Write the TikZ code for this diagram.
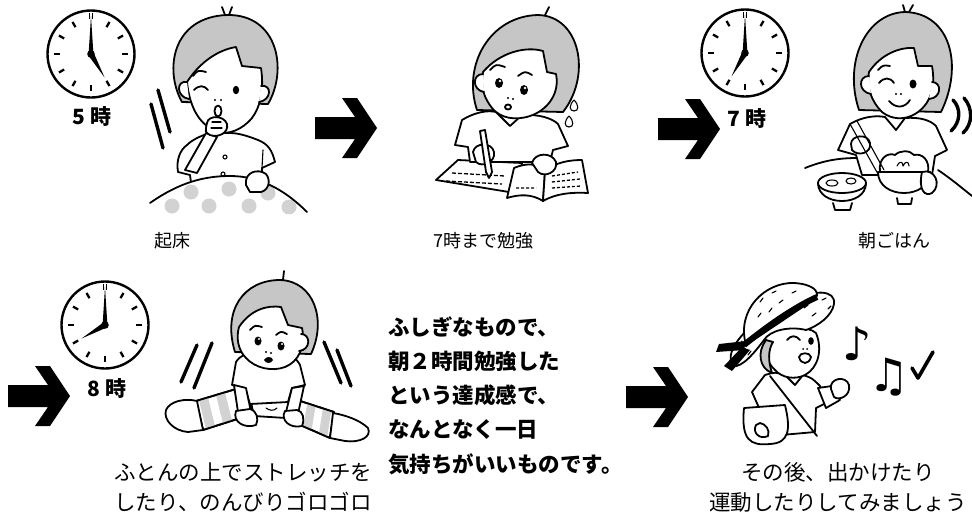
\documentclass[tikz,border=0pt]{standalone}
\usepackage{fontspec}
\usetikzlibrary{calc}
\newfontfamily\jp{Noto Sans CJK JP}
\newfontfamily\symb{DejaVu Sans}
\tikzset{
  ink/.style={line width=1.8pt, line cap=round, line join=round},
  thinink/.style={line width=1.1pt, line cap=round, line join=round},
  swish/.style={line width=3.4pt, line cap=round},
  hairfill/.style={fill=gray!45},
  stripefill/.style={fill=gray!35},
  clockbody/.style={circle, draw, line width=2.4pt, minimum size=87pt, inner sep=0pt, fill=white},
  tickmark/.style={line width=2.3pt},
  timelabel/.style={font=\jp\bfseries\fontsize{21}{21}\selectfont, inner sep=0pt},
  caption/.style={font=\jp\fontsize{18}{18}\selectfont, inner sep=0pt},
  capbig/.style={font=\jp\fontsize{21.5}{30}\selectfont, align=center, inner sep=0pt},
  msgline/.style={font=\jp\bfseries\fontsize{21.5}{21.5}\selectfont, anchor=west, inner sep=0pt},
  notes/.style={font=\symb\fontsize{46}{46}\selectfont, inner sep=0pt},
}
% clock face: name, centre, hour
\newcommand\clockface[3]{%
  \node[clockbody] (#1) at (#2) {};
  \begin{scope}[shift={(#1.center)}]
    \foreach \t in {1,...,11} \draw[tickmark] (-90+30*\t:31) -- (-90+30*\t:37);
    \draw[line width=1pt] (-1.8,-35) -- (-1.8,-41) (1.8,-35) -- (1.8,-41);
    \pgfmathsetmacro\ha{-90+30*#3}
    \fill (\ha+90:3) -- (\ha:27) -- (\ha-90:3) -- (\ha+180:3) -- cycle;
    \fill (2.4,0) -- (0,-38) -- (-2.4,0) -- (0,3) -- cycle;
    \fill (0,0) circle (3.8);
  \end{scope}}
% thick block arrow: name, top-left corner
\newcommand\blockarrow[2]{%
  \coordinate (#1) at (#2);
  \fill[shift={(#1)}] (0,19) -- (40,19) -- (27,0) -- (42,0) -- (62,30) -- (42,60) -- (27,60) -- (40,41) -- (0,41) -- cycle;}
\begin{document}
\begin{tikzpicture}[x=1pt, y=-1pt]
\useasboundingbox[fill=white] (0,0) rectangle (972,515);

% ---------- clocks and time labels ----------
\clockface{c5}{91,54}{5}
\clockface{c7}{745,53}{7}
\clockface{c8}{105,325}{8}
\node[timelabel] (t5) at (92,116) {5 時};
\node[timelabel] (t7) at (747,118) {7 時};
\node[timelabel] (t8) at (107,388) {8 時};

% ---------- block arrows ----------
\blockarrow{a1}{315,98}
\blockarrow{a2}{658,99}
\blockarrow{a3}{8,366}
\blockarrow{a4}{626,367}

% ---------- waking up ----------
\draw[swish] (158,90) -- (170,132);
\draw[swish] (151,104) -- (163,148);
% shirt
\draw[ink, fill=white] (187,145) .. controls (180,150) and (176,160) .. (178,172) -- (190,175) -- (192,190) -- (262,190) -- (262,168) -- (275,162) .. controls (272,150) and (268,144) .. (258,140) .. controls (248,136) and (238,133) .. (230,133) -- (210,133) .. controls (200,136) and (192,140) .. (187,145) -- cycle;
\draw[thinink] (263,150) -- (262,168);
\draw[thinink] (225,157) circle (2) (223,174) circle (2);
% raised arm and fist
\draw[ink, fill=white] (185,170) -- (206,133) -- (217,137) -- (197,173) -- cycle;
% hair
\draw[ink, hairfill] (182,102) .. controls (164,70) and (172,17) .. (227,15) .. controls (278,14) and (288,70) .. (268,104) -- cycle;
\draw[ink] (225,15) -- (222,7) (229,15) -- (232,7);
% face
\draw[ink, fill=white] (187,82) .. controls (200,62) and (218,50) .. (236,47) -- (242,66) -- (261,68) .. controls (264,88) and (261,106) .. (252,118) .. controls (242,130) and (228,135) .. (218,132) .. controls (201,126) and (190,110) .. (187,82) -- cycle;
\draw[ink, fill=white] (187,82) .. controls (176,80) and (176,97) .. (189,99);
\draw[ink, fill=white] (261,86) .. controls (272,84) and (272,100) .. (259,102);
\draw[ink] (194,90) .. controls (199,85) and (204,85) .. (208,90);
\draw[ink] (193,76) .. controls (198,70) .. (206,72);
\fill (236,90) ellipse (3.2 and 4.2);
\fill (215,100) circle (1.2) (221,100) circle (1.2);
\draw[ink, fill=white] (218,111) ellipse (3.5 and 5.5);
\draw[ink, fill=white] (207,123) .. controls (208,115) and (224,115) .. (227,124) .. controls (229,133) and (218,138) .. (210,135) .. controls (205,132) .. (207,123) -- cycle;
\draw[thinink] (212,122) -- (221,122) (211,128) -- (222,128);
% futon with dots
\fill[white] (150,203) .. controls (180,182) and (205,176) .. (230,176) .. controls (260,176) and (285,190) .. (307,212) -- (307,214) -- (150,214) -- cycle;
\begin{scope}
  \clip (150,203) .. controls (180,182) and (205,176) .. (230,176) .. controls (260,176) and (285,190) .. (307,212) -- (307,214) -- (150,214) -- cycle;
  \foreach \p in {(172,206),(191,192),(209,206),(229,189),(249,206),(268,193),(289,207)}
    \fill[gray!35] \p circle (7.5);
\end{scope}
\draw[ink] (150,203) .. controls (180,182) and (205,176) .. (230,176) .. controls (260,176) and (285,190) .. (307,212);
\draw[ink, fill=white] (246,185) .. controls (244,172) and (258,168) .. (266,174) .. controls (271,180) and (269,190) .. (261,192) -- (250,192) -- cycle;
\node[caption] (cap1) at (172,241) {起床};

% ---------- studying ----------
\draw[ink, fill=white] (436,180) -- (458,160) -- (522,163) -- (515,193) -- cycle;
\draw[line width=1.3pt, dash pattern=on 4pt off 2pt] (452,173) -- (505,176) (446,181) -- (502,184);
% shirt
\draw[ink, fill=white] (455,145) -- (462,120) .. controls (475,112) and (488,110) .. (496,112) -- (510,126) -- (522,115) .. controls (538,114) and (552,118) .. (558,124) -- (568,146) -- (553,150) -- (550,162) -- (470,162) -- (468,147) -- cycle;
% open book
\draw[ink, fill=white] (507,198) -- (514,168) .. controls (528,162) and (538,164) .. (545,171) -- (543,201) .. controls (532,194) and (520,194) .. (507,198) -- cycle;
\draw[ink, fill=white] (545,171) .. controls (556,162) and (570,160) .. (582,160) -- (588,193) .. controls (570,192) and (555,194) .. (543,201) -- cycle;
\draw[line width=1.3pt, dash pattern=on 3pt off 2pt] (552,176) -- (578,172) (552,182) -- (580,179) (552,188) -- (581,186) (516,188) -- (536,188);
% hands and pen
\draw[ink, fill=white] (473,152) .. controls (475,142) and (492,142) .. (494,152) .. controls (496,162) and (482,168) .. (476,162) -- cycle;
\draw[ink, fill=white] (480,131) -- (485,130) -- (492,172) -- (489,178) -- (486,172) -- cycle;
\draw[ink, fill=white] (532,163) .. controls (535,152) and (552,152) .. (556,162) .. controls (558,172) and (545,178) .. (538,172) -- cycle;
% head
\draw[ink, hairfill] (477,110) .. controls (462,65) and (490,16) .. (538,15) .. controls (580,16) and (592,75) .. (563,112) -- cycle;
\draw[ink] (545,15) -- (549,7);
\draw[ink, fill=white] (483,72) .. controls (500,52) and (526,46) .. (543,51) -- (547,72) -- (556,74) .. controls (560,93) and (548,110) .. (530,116) .. controls (515,121) and (500,118) .. (492,108) .. controls (484,98) and (480,86) .. (483,72) -- cycle;
\draw[ink, fill=white] (483,74) .. controls (472,74) and (472,90) .. (484,92);
\fill (499,83) ellipse (4 and 5); \fill[white] (500,81) circle (1.3);
\fill (524,90) ellipse (4 and 5); \fill[white] (525,88) circle (1.3);
\draw[ink] (490,70) .. controls (496,64) .. (505,67);
\draw[ink] (518,76) .. controls (525,71) .. (532,75);
\fill (508,98) circle (1.1) (513,99) circle (1.1);
\draw[ink] (508,107) ellipse (3 and 2.5);
\draw[thinink, fill=white] (574,100) .. controls (579,105) and (579,111) .. (574,111) .. controls (569,111) and (569,105) .. (574,100);
\draw[thinink, fill=white] (569,116) .. controls (574,121) and (574,127) .. (569,127) .. controls (564,127) and (564,121) .. (569,116);
\node[caption] (cap2) at (483,241) {7時まで勉強};

% ---------- breakfast ----------
\draw[ink] (805,168) .. controls (825,160) and (840,158) .. (858,158);
\draw[ink] (938,170) .. controls (950,178) and (962,188) .. (972,196);
\draw[ink, fill=white] (838,150) -- (850,124) .. controls (862,117) and (875,115) .. (885,117) -- (896,130) -- (905,118) .. controls (920,117) and (930,120) .. (936,126) -- (947,150) -- (935,156) -- (932,175) -- (862,175) -- (856,155) -- cycle;
% miso bowl
\draw[ink, fill=white] (818,183) .. controls (818,207) and (866,207) .. (866,183) -- cycle;
\draw[ink, fill=white] (842,183) ellipse (24 and 10);
\draw[ink] (833,203) -- (835,210) -- (850,210) -- (852,203);
\draw[thinink] (832,183) ellipse (6 and 3) (851,181) ellipse (5 and 3);
% rice bowl
\draw[ink, fill=white] (878,172) .. controls (878,200) and (930,200) .. (930,172) -- cycle;
\draw[ink] (897,198) -- (898,204) -- (911,204) -- (912,198);
\draw[ink, fill=white] (880,172) .. controls (878,158) and (888,152) .. (895,155) .. controls (900,150) and (910,150) .. (914,155) .. controls (922,153) and (930,160) .. (928,172) -- cycle;
\draw[thinink] (897,166) .. controls (899,161) and (903,161) .. (903,166) .. controls (905,161) and (909,161) .. (909,166);
\draw[ink, fill=white] (922,172) .. controls (935,168) and (942,185) .. (932,193) .. controls (925,197) and (918,190) .. (922,172);
% chopsticks hand
\draw[ink, fill=white] (851,144) .. controls (851,135) and (868,133) .. (870,143) .. controls (872,153) and (858,157) .. (852,150) -- cycle;
\draw[thinink] (850,124) -- (878,174); \draw[thinink] (857,121) -- (884,170);
% head
\draw[ink, hairfill] (859,110) .. controls (843,62) and (866,13) .. (905,12) .. controls (950,13) and (964,65) .. (941,112) -- cycle;
\draw[ink] (905,12) -- (903,5) (909,12) -- (913,5);
\draw[ink, fill=white] (869,72) .. controls (881,54) and (900,47) .. (914,48) -- (918,66) -- (932,66) .. controls (936,88) and (930,105) .. (915,114) .. controls (905,120) and (892,120) .. (882,112) .. controls (872,102) and (866,88) .. (869,72) -- cycle;
\draw[ink, fill=white] (869,76) .. controls (858,76) and (858,92) .. (871,94);
\draw[ink, fill=white] (932,82) .. controls (942,82) and (942,98) .. (929,99);
\draw[ink] (879,83) .. controls (884,77) and (890,77) .. (894,83);
\fill (913,84) ellipse (3.5 and 4.5);
\draw[ink] (878,70) .. controls (883,65) .. (890,66);
\fill (896,94) circle (1.1) (901,94) circle (1.1);
\draw[ink] (889,101) .. controls (896,109) and (905,108) .. (910,100);
\draw[swish] (953,100) .. controls (961,108) and (961,122) .. (951,131);
\draw[swish] (964,98) .. controls (973,108) and (973,124) .. (963,133);
\node[caption] (cap3) at (894,241) {朝ごはん};

% ---------- stretching ----------
\draw[swish] (197,345) -- (181,382);
\draw[swish] (212,343) -- (194,388);
\draw[swish] (324,342) -- (341,383);
\draw[swish] (337,350) -- (351,386);
% legs with striped trousers
\coordinate (lA) at (246,386); \coordinate (lB) at (196,401);
\coordinate (lC) at (203,430); \coordinate (lD) at (253,414);
\coordinate (rA) at (288,397); \coordinate (rB) at (334,412);
\coordinate (rC) at (330,438); \coordinate (rD) at (284,418);
\draw[ink, fill=white] (lA) -- (lB) -- (lC) -- (lD) -- cycle;
\draw[ink, fill=white] (rA) -- (rB) -- (rC) -- (rD) -- cycle;
\foreach \s/\e in {0.08/0.26, 0.42/0.60, 0.76/0.94} {
  \fill[stripefill] ($(lA)!\s!(lB)$) -- ($(lA)!\e!(lB)$) -- ($(lD)!\e!(lC)$) -- ($(lD)!\s!(lC)$) -- cycle;
  \fill[stripefill] ($(rA)!\s!(rB)$) -- ($(rA)!\e!(rB)$) -- ($(rD)!\e!(rC)$) -- ($(rD)!\s!(rC)$) -- cycle;}
\draw[ink] (lA) -- (lB) -- (lC) -- (lD) (rA) -- (rB) -- (rC) -- (rD);
\draw[ink, fill=white] (250,398) -- (290,398) -- (286,418) -- (254,416) -- cycle;
\draw[thinink] (266,408) .. controls (270,411) and (274,411) .. (277,408);
% feet
\draw[ink, fill=white] (197,401) .. controls (185,398) and (170,401) .. (166,410) .. controls (163,420) and (174,431) .. (188,432) -- (203,430) -- cycle;
\draw[ink, fill=white] (333,413) .. controls (345,415) and (360,420) .. (368,428) .. controls (372,437) and (360,443) .. (345,441) -- (330,438) -- cycle;
% shirt and arms
\draw[ink, fill=white] (236,362) .. controls (240,355) and (250,352) .. (258,352) -- (268,365) -- (278,352) .. controls (288,353) and (296,357) .. (300,365) -- (305,385) -- (292,388) -- (288,402) -- (250,404) -- (245,388) -- (232,385) -- cycle;
\draw[ink, fill=white] (234,385) -- (238,412) -- (251,412) -- (246,388) -- cycle;
\draw[ink, fill=white] (292,388) -- (286,412) -- (298,414) -- (304,386) -- cycle;
\draw[ink, fill=white] (236,411) .. controls (232,422) and (245,429) .. (256,425) .. controls (259,419) and (257,411) .. (250,409) -- cycle;
\draw[ink, fill=white] (285,411) .. controls (280,420) and (290,429) .. (302,426) .. controls (305,419) and (303,411) .. (297,410) -- cycle;
% head
\draw[ink, hairfill] (235,352) .. controls (222,310) and (244,280) .. (280,280) .. controls (314,281) and (327,320) .. (311,354) -- cycle;
\draw[ink] (283,280) -- (284,271);
\draw[ink, fill=white] (239,327) .. controls (251,309) and (268,305) .. (281,307) -- (288,325) -- (302,328) .. controls (306,347) and (298,362) .. (285,367) .. controls (272,372) and (255,368) .. (246,358) .. controls (238,350) and (236,338) .. (239,327) -- cycle;
\draw[ink, fill=white] (301,334) .. controls (311,334) and (311,350) .. (299,351);
\fill (258,341) ellipse (3.5 and 4.5); \fill[white] (259,339) circle (1.2);
\fill (281,346) ellipse (3.5 and 4.5); \fill[white] (282,344) circle (1.2);
\draw[ink] (250,330) .. controls (255,325) .. (262,327);
\draw[ink] (276,335) .. controls (281,331) .. (287,334);
\fill (266,352) circle (1.1) (271,353) circle (1.1);
\fill (264,360) .. controls (266,356) and (272,356) .. (273,360) .. controls (271,364) and (266,364) .. (264,360);
\node[capbig] (cap4) at (243,487) {ふとんの上でストレッチを\\したり、のんびりゴロゴロ};

% ---------- message ----------
\node[msgline] (m1) at (388,327) {ふしぎなもので、};
\node[msgline] (m2) at (388,361) {朝２時間勉強した};
\node[msgline] (m3) at (388,395) {という達成感で、};
\node[msgline] (m4) at (388,429) {なんとなく一日};
\node[msgline] (m5) at (388,464) {気持ちがいいものです。};

% ---------- going out ----------
\draw[ink, fill=white] (752,392) -- (765,375) .. controls (775,372) .. (785,375) -- (795,385) -- (803,375) .. controls (812,378) .. (820,386) -- (828,402) -- (816,408) -- (815,432) -- (770,436) -- (760,410) -- cycle;
\draw[ink] (770,376) -- (817,436);
\draw[ink, fill=white] (744,408) .. controls (741,440) and (750,446) .. (770,444) .. controls (789,443) and (791,430) .. (785,405) -- cycle;
\draw[ink, fill=white] (756,425) .. controls (752,433) and (760,440) .. (768,436) .. controls (770,430) and (766,424) .. (760,423) -- cycle;
\draw[ink, fill=white] (818,388) -- (826,408) -- (840,400) -- (832,386) -- cycle;
\draw[ink, fill=white] (831,389) .. controls (829,378) and (846,375) .. (849,385) .. controls (851,396) and (839,401) .. (834,397) -- cycle;
% face under the hat
\draw[ink, fill=white] (766,333) .. controls (788,326) and (808,326) .. (816,333) .. controls (823,350) and (818,368) .. (805,375) .. controls (795,380) and (782,378) .. (775,370) .. controls (766,362) and (763,348) .. (766,333) -- cycle;
\draw[ink, hairfill] (766,340) .. controls (757,352) and (759,368) .. (772,373) .. controls (768,361) and (768,350) .. (773,342) -- cycle;
% hat: brim, crown, band and ribbon
\draw[ink, fill=white] (733,366) .. controls (722,350) and (750,322) .. (785,303) .. controls (815,288) and (836,290) .. (834,304) .. controls (832,316) and (818,326) .. (806,330) .. controls (790,326) and (770,330) .. (764,340) .. controls (755,352) and (742,368) .. (733,366) -- cycle;
\draw[ink, fill=white] (746,345) .. controls (736,310) and (765,282) .. (794,283) .. controls (812,284) and (820,291) .. (816,298) -- cycle;
\foreach \p/\q in {{(760,302)}/{(763,298)}, {(772,293)}/{(776,291)}, {(779,303)}/{(783,300)}, {(758,317)}/{(761,313)}, {(792,293)}/{(796,291)}, {(769,312)}/{(772,308)}, {(740,345)}/{(742,341)}, {(736,357)}/{(739,353)}, {(748,355)}/{(751,351)}, {(822,300)}/{(826,298)}, {(828,309)}/{(831,306)}, {(812,316)}/{(816,313)}, {(804,308)}/{(808,305)}}
  \draw[thinink] \p -- \q;
\draw[line width=6pt] (744,345) .. controls (770,324) and (795,307) .. (817,297);
\fill (746,341) -- (719,344) -- (716,352) -- (744,350) -- cycle;
\fill (742,347) -- (724,366) -- (732,371) -- (750,350) -- cycle;
% face details
\draw[ink] (787,340) .. controls (791,335) and (796,335) .. (800,340);
\fill (811,341) ellipse (2.8 and 3.8);
\fill (803,349) circle (1) (807,349) circle (1);
\draw[ink, fill=white] (799,357) .. controls (800,352) and (810,352) .. (811,357) .. controls (809,365) and (801,365) .. (799,357) -- cycle;
% music notes
\node[notes] (n1) at (857,344) {♪};
\node[notes] (n2) at (889,377) {♫};
\draw[line width=3.6pt, line cap=round, line join=round] (912,368) -- (918,378) -- (933,352);
\node[capbig] (cap5) at (838,487) {その後、出かけたり\\運動したりしてみましょう};
\end{tikzpicture}
\end{document}
